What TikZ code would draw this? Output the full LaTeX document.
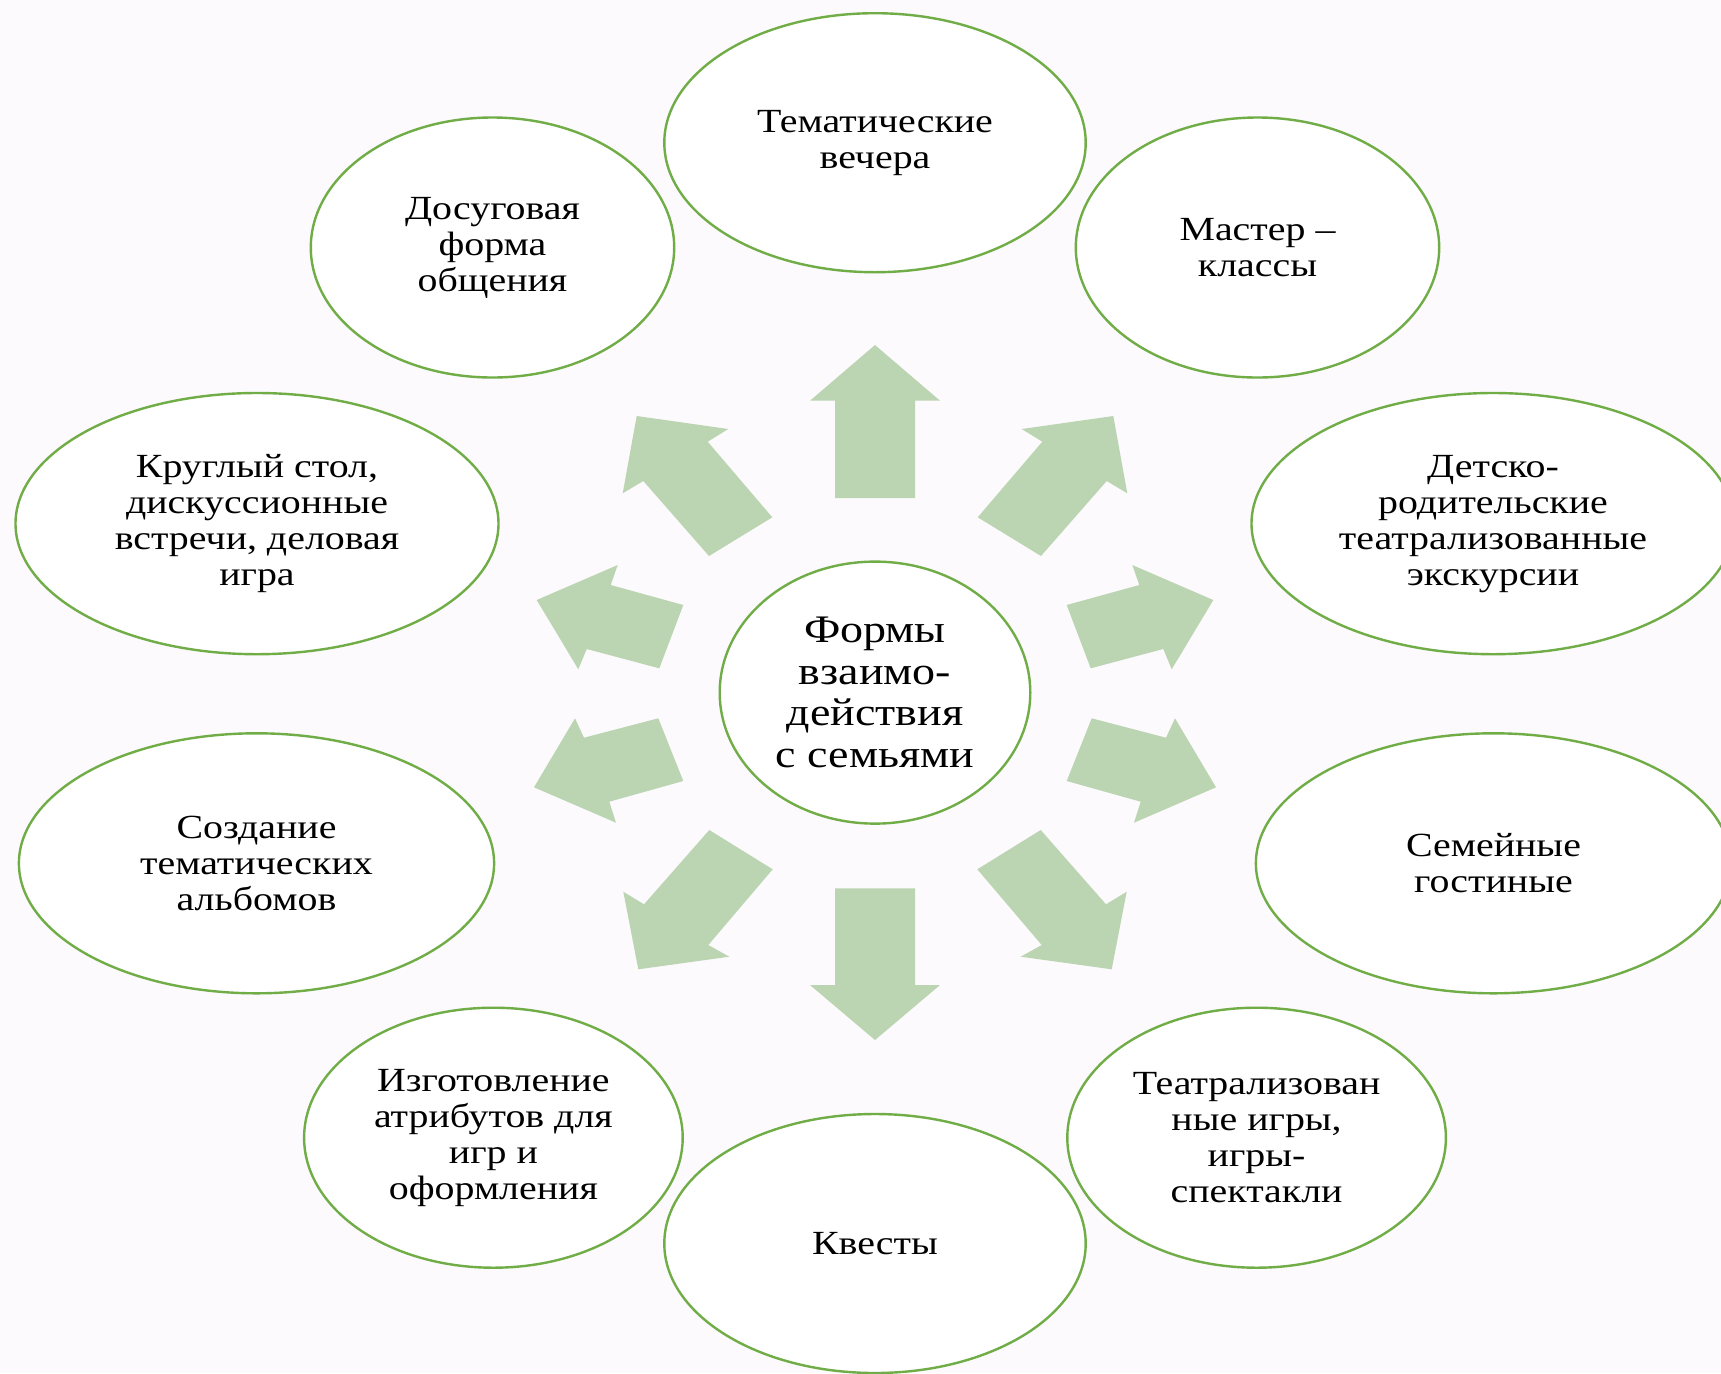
\documentclass[tikz,border=0pt]{standalone}
\usepackage{fontspec}
\setmainfont{Liberation Serif}[FakeStretch=1.18]
\usetikzlibrary{shapes.geometric}
\definecolor{bg}{RGB}{252,250,252}
\definecolor{ringgreen}{RGB}{112,173,71}
\definecolor{arrowgreen}{RGB}{187,212,178}
\begin{document}
\begin{tikzpicture}[x=0.5pt,y=-0.5pt,
  form/.style={ellipse, draw=ringgreen, line width=1.2pt, fill=white, inner sep=0pt,
    align=center, text=black, font=\fontsize{16.9}{18}\selectfont},
  hub/.style={form, font=\fontsize{19.5}{20.8}\selectfont},
  blockarrow/.style={fill=arrowgreen, draw=none}]
\useasboundingbox (0,0) rectangle (1721,1373);
\fill[bg] (0,0) rectangle (1721,1373);
\clip (0,0) rectangle (1721,1373);

% block arrows
\fill[blockarrow] (835,498) -- (835,400.7) -- (810,400.7) -- (875,345) -- (940,400.7) -- (915,400.7) -- (915,498) -- cycle;
\fill[blockarrow] (636.7,416) -- (728.3,429) -- (707.7,441.7) -- (772.3,517.3) -- (709,556) -- (643.3,481) -- (622.7,493.3) -- cycle;
\fill[blockarrow] (536.7,600) -- (617.7,565) -- (610.7,585) -- (683.3,605) -- (659.3,668.3) -- (586.7,649) -- (578.3,669.3) -- cycle;
\fill[blockarrow] (534,787.3) -- (575,718.3) -- (584,737.7) -- (658.3,718.3) -- (683.3,781) -- (609.3,801.7) -- (616,822.7) -- cycle;
\fill[blockarrow] (709.3,830) -- (772.7,869.3) -- (708.3,945) -- (729.3,956.7) -- (638.3,969.3) -- (623.3,891.7) -- (644,904.3) -- cycle;
\fill[blockarrow] (835,888.3) -- (915,888.3) -- (915,985) -- (940,985) -- (875,1040) -- (810,985) -- (835,985) -- cycle;
\fill[blockarrow] (1113.3,416) -- (1021.7,429) -- (1042.3,441.7) -- (977.7,517.3) -- (1041,556) -- (1106.7,481) -- (1127.3,493.3) -- cycle;
\fill[blockarrow] (1213.3,600) -- (1132.3,565) -- (1139.3,585) -- (1066.7,605) -- (1090.7,668.3) -- (1163.3,649) -- (1171.7,669.3) -- cycle;
\fill[blockarrow] (1216,787.3) -- (1175,718.3) -- (1166,737.7) -- (1091.7,718.3) -- (1066.7,781) -- (1140.7,801.7) -- (1134,822.7) -- cycle;
\fill[blockarrow] (1040.7,830) -- (977.3,869.3) -- (1041.7,945) -- (1020.7,956.7) -- (1111.7,969.3) -- (1126.7,891.7) -- (1106,904.3) -- cycle;

% ellipses
\node[hub, minimum width=155.3pt, minimum height=131pt] (center) at (875,692.6) {Формы\\взаимо-\\действия\\с семьями};
\node[form, minimum width=210.7pt, minimum height=129.5pt] (top) at (875,142.7) {Тематические\\вечера};
\node[form, minimum width=181.7pt, minimum height=130pt] (dosug) at (492.5,247.5) {Досуговая\\форма\\общения};
\node[form, minimum width=181.7pt, minimum height=130pt] (master) at (1257.5,247.5) {Мастер –\\классы};
\node[form, minimum width=241.5pt, minimum height=130.6pt] (kruglyi) at (257,523.6) {Круглый стол,\\дискуссионные\\встречи, деловая\\игра};
\node[form, minimum width=241.5pt, minimum height=130.6pt] (detsko) at (1493,523.6) {Детско-\\родительские\\театрализованные\\экскурсии};
\node[form, minimum width=237.6pt, minimum height=130pt] (sozd) at (256.5,863.3) {Создание\\тематических\\альбомов};
\node[form, minimum width=237.6pt, minimum height=130pt] (semeinye) at (1493.5,863.3) {Семейные\\гостиные};
\node[form, minimum width=189.3pt, minimum height=130pt] (izgot) at (493.4,1137.7) {Изготовление\\атрибутов для\\игр и\\оформления};
\node[form, minimum width=189.3pt, minimum height=130pt] (teatr) at (1256.6,1137.7) {Театрализован\\ные игры,\\игры-\\спектакли};
\node[form, minimum width=210.7pt, minimum height=129.5pt] (kvesty) at (875,1243.5) {Квесты};
\end{tikzpicture}
\end{document}
